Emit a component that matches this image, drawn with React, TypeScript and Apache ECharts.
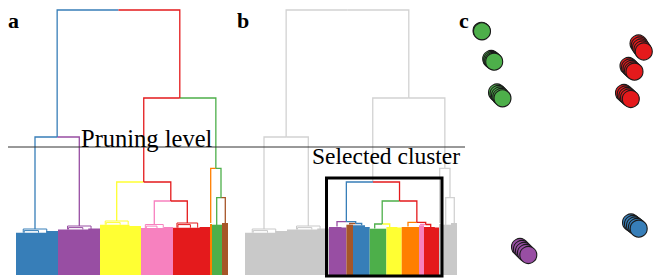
import React, { useEffect, useRef } from "react";
import * as echarts from "echarts";

// ---- Panel a: pruned dendrogram (clusters = leaves after pruning) ----
const clusterColors = ["#377eb8", "#984ea3", "#ffff33", "#f781bf", "#e41a1c", "#ff7f00", "#4daf4a", "#a65628"];
const clusterSizes = [42, 42, 41, 32, 37, 2, 10, 6];
const clusterAnchors = [19, 21.3, 16.7, 13.3, 14.3, 0.7, 4.7, 3.3];
const clusterTops = [46, 49, 54, 50.5, 52, 52, 50, 51];
const clusterFillLeft = [42.3, 45.5, 50.3, 47, 47.3, 51, 50.3, 52];
const clusterFillRight = [44, 46.5, 49, 48, 48, 51, 50.3, 52];

const mergeLeft = [3, 2, 6, 5, 0, 9, 12];
const mergeRight = [4, 8, 7, 10, 1, 11, 13];
const mergeHeights = [74, 93, 77.3, 106.7, 138, 177, 265];

const selectedNode = 9;
const pruningLevel = 128;

// ---- Panel b: re-clustered selected cluster ----
const subColors = ["#984ea3", "#a65628", "#377eb8", "#4daf4a", "#ffff33", "#ff7f00", "#f781bf", "#e41a1c"];
const subSizes = [17.4, 6.6, 16.7, 16.7, 15.3, 17.3, 5, 15];
const subAnchors = [8, 3.3, 8.7, 5, 3.3, 6.3, 1.7, 6.7];
const subTops = [48.5, 50.5, 49.7, 46.5, 48, 48.5, 50, 48];
const subFillLeft = [48, 50.3, 49.7, 46.3, 48, 48, 49.7, 48];
const subFillRight = [47.5, 50.3, 48, 46.3, 47.5, 48, 49.7, 47.5];
const subMergeLeft = [1, 0, 3, 6, 5, 10, 9];
const subMergeRight = [2, 8, 4, 7, 11, 12, 13];
const subMergeHeights = [51.5, 53.3, 51, 50.5, 52.7, 74, 93];

// ---- Panel c: embedding of the selected clusters ----
const greenPoints = [[21.5, 30.8], [22, 31.3], [31.2, 59], [32.2, 60], [33.2, 61], [34.2, 61.7], [37, 92.5], [38.5, 94], [40, 95.5], [41.3, 97], [42.5, 98.3]];
const redPoints = [[178.5, 43.5], [179.8, 45.5], [181, 47.5], [182.5, 49.5], [183.8, 51.5], [168.5, 66], [170, 67.5], [171.5, 69], [173, 70.5], [174.5, 71.7], [164, 93], [165.7, 94.5], [167.4, 96], [169, 97.5], [170.8, 99]];
const bluePoints = [[171, 222.5], [173, 224], [175, 225.5], [177, 227], [178.7, 228.7]];
const purplePoints = [[60, 247], [62, 249], [64, 251], [66, 253], [68.3, 255]];

const GRAY_LINK = "#d2d2d2";
const GRAY_BLOCK = "#c9c9c9";

function buildTree(sizes: number[], anchors: number[], tops: number[], mL: number[], mR: number[], mH: number[], offset: number) {
  const n = sizes.length;
  const start: number[] = [];
  let acc = offset;
  for (const s of sizes) { start.push(acc); acc += s; }
  const x = sizes.map((_, i) => start[i] + anchors[i]);
  const h = tops.slice();
  const w = sizes.slice();
  const col = sizes.map((_, i) => i);
  const parent: number[] = new Array(n + mL.length).fill(-1);
  mL.forEach((l, k) => {
    const r = mR[k];
    const id = n + k;
    x[id] = (x[l] + x[r]) / 2;
    h[id] = mH[k];
    w[id] = w[l] + w[r];
    col[id] = w[r] > w[l] ? col[r] : col[l];
    parent[l] = id;
    parent[r] = id;
  });
  return { n, start, x, h, w, col, parent };
}

function under(node: number, sel: number, parent: number[]) {
  let c = node;
  while (c !== -1) { if (c === sel) return true; c = parent[c]; }
  return false;
}

function linkData(t: any, mL: number[], mR: number[], colors: string[] | null, skip: (id: number) => boolean) {
  const data: number[][] = [];
  const cols: string[] = [];
  mL.forEach((l, k) => {
    const id = t.n + k;
    if (skip(id)) return;
    const H = t.h[id];
    const xm = t.x[id];
    for (const c of [l, mR[k]]) {
      data.push([t.x[c], t.h[c], t.x[c], H, xm, H]);
      cols.push(colors ? colors[t.col[c]] : GRAY_LINK);
    }
  });
  return { data, cols };
}

function blockData(t: any, sizes: number[], fl: number[], fr: number[], tops: number[], colors: string[] | null, skip: (i: number) => boolean) {
  const data: number[][] = [];
  const cols: string[] = [];
  sizes.forEach((s, i) => {
    if (skip(i)) return;
    data.push([t.start[i], t.start[i] + s, fl[i], fr[i], t.x[i], tops[i]]);
    cols.push(colors ? colors[i] : GRAY_BLOCK);
  });
  return { data, cols };
}

const lineRender = (cols: string[], width: number) => (params: any, api: any) => {
  const pts = [0, 2, 4].map((i) => api.coord([api.value(i), api.value(i + 1)]));
  return { type: "polyline", shape: { points: pts }, style: { stroke: cols[params.dataIndex], lineWidth: width, fill: null } };
};

const blockRender = (cols: string[]) => (params: any, api: any) => {
  const x0 = api.value(0), x1 = api.value(1), fl = api.value(2), fr = api.value(3), ax = api.value(4), top = api.value(5);
  const c = cols[params.dataIndex];
  const xs = x0 + (x1 - x0) * 0.72;
  const pts = [[x0, 0], [x0, fl], [xs, fl], [xs, fr], [x1, fr], [x1, 0]].map((p) => api.coord(p));
  const children: any[] = [{ type: "polygon", shape: { points: pts }, style: { fill: c } }];
  if (x1 - x0 >= 20 && top > Math.max(fl, fr)) {
    const half = (x1 - x0) * 0.28;
    const b0 = ax - half, b1 = ax + half;
    children.push({
      type: "polyline",
      shape: { points: [[b0, fl], [b0, top], [b1, top], [b1, fl]].map((p) => api.coord(p)) },
      style: { stroke: c, lineWidth: 1, fill: null },
    });
    children.push({
      type: "polyline",
      shape: { points: [[b0 + 1, fl], [b0 + 1, top - 1.6], [ax + half * 0.3, top - 1.6], [ax + half * 0.3, fl]].map((p) => api.coord(p)) },
      style: { stroke: c, lineWidth: 1, fill: null },
    });
  }
  return { type: "group", children };
};

export default function App() {
  const ref = useRef<HTMLDivElement>(null);
  useEffect(() => {
    const chart = echarts.init(ref.current!, null, { renderer: "svg" });

    const tA = buildTree(clusterSizes, clusterAnchors, clusterTops, mergeLeft, mergeRight, mergeHeights, 0);
    const linksA = linkData(tA, mergeLeft, mergeRight, clusterColors, () => false);
    const blocksA = blockData(tA, clusterSizes, clusterFillLeft, clusterFillRight, clusterTops, clusterColors, () => false);

    const linksBGray = linkData(tA, mergeLeft, mergeRight, null, (id) => under(id, selectedNode, tA.parent));
    const blocksBGray = blockData(tA, clusterSizes, clusterFillLeft, clusterFillRight, clusterTops, null, (i) => under(i, selectedNode, tA.parent));

    const selLeaves = clusterSizes.map((_, i) => i).filter((i) => under(i, selectedNode, tA.parent));
    const selStart = Math.min(...selLeaves.map((i) => tA.start[i]));
    const selEnd = Math.max(...selLeaves.map((i) => tA.start[i] + clusterSizes[i]));
    const tS = buildTree(subSizes, subAnchors, subTops, subMergeLeft, subMergeRight, subMergeHeights, selStart);
    const linksS = linkData(tS, subMergeLeft, subMergeRight, subColors, () => false);
    const blocksS = blockData(tS, subSizes, subFillLeft, subFillRight, subTops, subColors, () => false);
    const box = [[selStart - 2.5, selEnd + 3, -1, tA.h[selectedNode] + 4]];

    const enc = { x: [0, 2, 4], y: [1, 3, 5] };
    const serif = '"Liberation Serif", "Times New Roman", serif';

    const scatter = (data: number[][], color: string) => ({
      type: "scatter",
      xAxisIndex: 3,
      yAxisIndex: 3,
      data,
      symbolSize: 17,
      itemStyle: { color, borderColor: "#1a1a1a", borderWidth: 1.1, opacity: 1 },
      z: 3,
    });

    chart.setOption({
      animation: false,
      backgroundColor: "#fff",
      grid: [
        { left: 16, top: 10, width: 212, height: 265 },
        { left: 245, top: 10, width: 212, height: 265 },
        { left: 8, top: 10, width: 457, height: 265 },
        { left: 460, top: 0, width: 194, height: 278 },
      ],
      xAxis: [
        { type: "value", gridIndex: 0, min: 0, max: 212, show: false },
        { type: "value", gridIndex: 1, min: 0, max: 212, show: false },
        { type: "value", gridIndex: 2, min: 0, max: 1, show: false },
        { type: "value", gridIndex: 3, min: 0, max: 194, show: false },
      ],
      yAxis: [
        { type: "value", gridIndex: 0, min: 0, max: 265, show: false },
        { type: "value", gridIndex: 1, min: 0, max: 265, show: false },
        { type: "value", gridIndex: 2, min: 0, max: 265, show: false },
        { type: "value", gridIndex: 3, min: 0, max: 278, inverse: true, show: false },
      ],
      series: [
        { type: "custom", xAxisIndex: 0, yAxisIndex: 0, data: linksA.data, encode: enc, renderItem: lineRender(linksA.cols, 1.3), z: 2 },
        { type: "custom", xAxisIndex: 0, yAxisIndex: 0, data: blocksA.data, renderItem: blockRender(blocksA.cols), z: 2 },
        { type: "custom", xAxisIndex: 1, yAxisIndex: 1, data: linksBGray.data, encode: enc, renderItem: lineRender(linksBGray.cols, 1.3), z: 2 },
        { type: "custom", xAxisIndex: 1, yAxisIndex: 1, data: blocksBGray.data, renderItem: blockRender(blocksBGray.cols), z: 2 },
        { type: "custom", xAxisIndex: 1, yAxisIndex: 1, data: linksS.data, encode: enc, renderItem: lineRender(linksS.cols, 1.3), z: 2 },
        { type: "custom", xAxisIndex: 1, yAxisIndex: 1, data: blocksS.data, renderItem: blockRender(blocksS.cols), z: 2 },
        {
          type: "custom", xAxisIndex: 1, yAxisIndex: 1, data: box, z: 4,
          renderItem: (_p: any, api: any) => {
            const a = api.coord([api.value(0), api.value(3)]);
            const b = api.coord([api.value(1), api.value(2)]);
            return { type: "rect", shape: { x: a[0], y: a[1], width: b[0] - a[0], height: b[1] - a[1] }, style: { stroke: "#000", lineWidth: 3, fill: null } };
          },
        },
        {
          type: "line", xAxisIndex: 2, yAxisIndex: 2, data: [[0, pruningLevel], [1, pruningLevel]],
          symbol: "none", lineStyle: { color: "#333", width: 1 }, z: 5,
        },
        scatter(greenPoints, "#4daf4a"),
        scatter(redPoints, "#e41a1c"),
        scatter(bluePoints, "#377eb8"),
        scatter(purplePoints, "#984ea3"),
      ],
      graphic: [
        { type: "text", x: 8, y: 20, z: 10, style: { text: "a", font: `bold 22px ${serif}`, fill: "#000", verticalAlign: "middle" } },
        { type: "text", x: 237, y: 20, z: 10, style: { text: "b", font: `bold 22px ${serif}`, fill: "#000", verticalAlign: "middle" } },
        { type: "text", x: 459, y: 20, z: 10, style: { text: "c", font: `bold 22px ${serif}`, fill: "#000", verticalAlign: "middle" } },
        { type: "text", x: 81, y: 138.5, z: 10, style: { text: "Pruning level", font: `24.5px ${serif}`, fill: "#000", verticalAlign: "middle" } },
        { type: "text", x: 312, y: 155.5, z: 10, style: { text: "Selected cluster", font: `23.5px ${serif}`, fill: "#000", verticalAlign: "middle" } },
      ],
    });
    return () => chart.dispose();
  }, []);
  return <div ref={ref} style={{ position: "fixed", left: 0, top: 0, width: 654, height: 278, background: "#fff" }} />;
}
